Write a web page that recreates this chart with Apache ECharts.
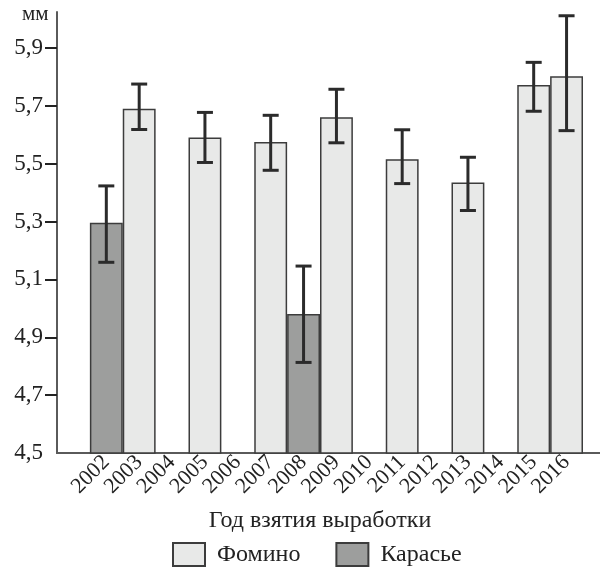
<!DOCTYPE html>
<html>
<head>
<meta charset="utf-8">
<script src="https://cdn.jsdelivr.net/npm/echarts@6/dist/echarts.min.js"></script>
<style>html,body{margin:0;padding:0;background:#fff}#c{width:600px;height:570px}</style>
</head>
<body>
<div id="c"></div>
<script>
const years = ['2002','2003','2004','2005','2006','2007','2008','2009','2010','2011','2012','2013','2014','2015','2016'];
const fomino  = [null, 5.69, null, 5.59, null, 5.575, null, 5.66, null, 5.515, null, 5.435, null, 5.772, 5.802];
const karasye = [5.296, null, null, null, null, null, 4.98, null, null, null, null, null, null, null, null];
const errLow  = [5.159, 5.618, null, 5.504, null, 5.477, 4.813, 5.572, null, 5.431, null, 5.338, null, 5.681, 5.614];
const errHigh = [5.423, 5.775, null, 5.677, null, 5.667, 5.146, 5.757, null, 5.617, null, 5.522, null, 5.850, 6.011];
const seriesNames = ['Фомино', 'Карасье'];
const unitLabel = 'мм';
const xTitle = 'Год взятия выработки';

const FONT = '"Liberation Serif", "DejaVu Serif", serif';
const xCats = [''].concat(years);
const pad = arr => [null].concat(arr);
const errData = [];
years.forEach((y, i) => { if (errLow[i] != null) errData.push([i + 1, errLow[i], errHigh[i]]); });
const fmt = v => String(Math.round(v * 10) / 10).replace('.', ',');

const chart = echarts.init(document.getElementById('c'), null, {renderer: 'canvas'});
chart.setOption({
  animation: false,
  backgroundColor: '#fff',
  textStyle: {fontFamily: FONT},
  title: {text: unitLabel, left: 22, top: 4, padding: 0,
    textStyle: {fontFamily: FONT, fontSize: 21, fontWeight: 'normal', color: '#222'}},
  legend: {
    data: seriesNames, left: 172, top: 542, padding: 0,
    itemWidth: 32, itemHeight: 23, itemGap: 35, icon: 'rect',
    textStyle: {fontFamily: FONT, fontSize: 24, color: '#222', padding: [0, 0, 0, 7]}
  },
  grid: [
    {left: 57, right: 17, top: 12, bottom: 117},
    {left: 57, right: 17, top: 48, bottom: 117},
    {left: 57, right: 17, top: 48, bottom: 174.86},
    {left: 57, right: 0, top: 452, bottom: 117}
  ],
  xAxis: [
    {type: 'category', gridIndex: 0, data: xCats,
      axisLine: {show: true, lineStyle: {color: '#5a5a5a', width: 2}},
      axisTick: {show: false},
      axisLabel: {rotate: 45, margin: 6, fontSize: 22, color: '#222', fontFamily: FONT, interval: 0},
      name: xTitle, nameLocation: 'middle', nameGap: 56,
      nameTextStyle: {fontFamily: FONT, fontSize: 24, color: '#222'}},
    {type: 'value', gridIndex: 1, show: false},
    {type: 'value', gridIndex: 2, show: false},
    {type: 'value', gridIndex: 3, min: 0, max: 1,
      axisLine: {show: true, lineStyle: {color: '#5a5a5a', width: 2}},
      axisTick: {show: false}, axisLabel: {show: false}, splitLine: {show: false}}
  ],
  yAxis: [
    {type: 'value', gridIndex: 0, min: 4.5, max: 6.024,
      axisLine: {show: true, lineStyle: {color: '#5a5a5a', width: 2}},
      axisTick: {show: false}, axisLabel: {show: false}, splitLine: {show: false}},
    {type: 'value', gridIndex: 1, min: 4.5, max: 5.9, interval: 0.2,
      axisLine: {show: false}, axisTick: {show: false}, splitLine: {show: false},
      axisLabel: {margin: 14, fontSize: 23, color: '#222', fontFamily: FONT, formatter: fmt}},
    {type: 'value', gridIndex: 2, min: 4.7, max: 5.9, interval: 0.2,
      axisLine: {show: false}, splitLine: {show: false}, axisLabel: {show: false},
      axisTick: {show: true, length: 12, lineStyle: {color: '#222', width: 2}}},
    {type: 'value', gridIndex: 3, show: false}
  ],
  series: [
    {name: seriesNames[0], type: 'bar', xAxisIndex: 0, yAxisIndex: 0, data: pad(fomino),
      barWidth: '100%', barGap: '-100%',
      itemStyle: {color: '#e8e9e8', borderColor: '#3c3c3c', borderWidth: 1.5}},
    {name: seriesNames[1], type: 'bar', xAxisIndex: 0, yAxisIndex: 0, data: pad(karasye),
      barWidth: '100%', barGap: '-100%',
      itemStyle: {color: '#9d9e9d', borderColor: '#3c3c3c', borderWidth: 1.5}},
    {type: 'custom', xAxisIndex: 0, yAxisIndex: 0, data: errData, z: 10,
      renderItem: function (params, api) {
        const x = api.value(0);
        const lo = api.coord([x, api.value(1)]);
        const hi = api.coord([x, api.value(2)]);
        const c = 8;
        const st = {stroke: '#2b2b2b', lineWidth: 3};
        return {type: 'group', children: [
          {type: 'line', shape: {x1: lo[0], y1: lo[1], x2: hi[0], y2: hi[1]}, style: st},
          {type: 'line', shape: {x1: lo[0] - c, y1: lo[1], x2: lo[0] + c, y2: lo[1]}, style: st},
          {type: 'line', shape: {x1: hi[0] - c, y1: hi[1], x2: hi[0] + c, y2: hi[1]}, style: st}
        ]};
      }}
  ]
});
</script>
</body>
</html>
